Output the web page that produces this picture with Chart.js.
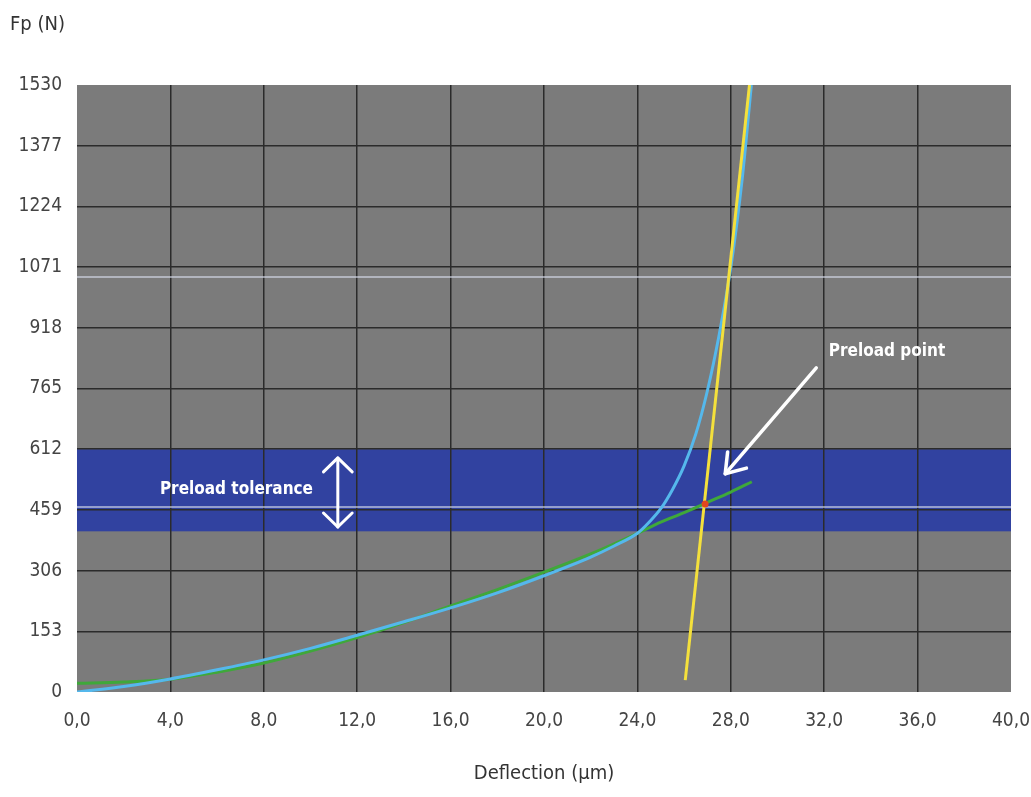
<!DOCTYPE html>
<html>
<head>
<meta charset="utf-8">
<script src="https://cdn.jsdelivr.net/npm/chart.js@4/dist/chart.umd.min.js"></script>
<style>
  html, body { margin: 0; padding: 0; background: #fff; }
  #wrap { width: 1031px; height: 797px; }
</style>
</head>
<body>
<div id="wrap"><canvas id="preload"></canvas></div>
<script>
// axis ticks
const xTicks = [0, 4, 8, 12, 16, 20, 24, 28, 32, 36, 40];
const yTicks = [0, 153, 306, 459, 612, 765, 918, 1071, 1224, 1377, 1530];

// stiffness curve (blue)
const blueX = [0, 2, 4, 6, 8, 10, 12, 14, 16, 18, 20, 22, 23, 24, 24.5, 25, 25.5, 26, 26.5, 27, 27.5, 28, 28.5, 28.88];
const blueY = [0, 14, 33, 56, 81, 110, 143, 177, 212, 250, 293, 340, 368, 400, 428, 462, 510, 570, 650, 760, 900, 1070, 1300, 1530];

// spring curve (green)
const greenX = [0, 2, 4, 6, 8, 10, 12, 14, 16, 18, 20, 22, 24, 25, 26, 27, 28, 28.9];
const greenY = [22, 25, 32, 50, 73, 103, 137, 175, 217, 258, 302, 348, 400, 428, 452, 478, 504, 530];

// load line (yellow)
const yellowX = [26.05, 28.8];
const yellowY = [30, 1530];

// preload point
const pointX = [26.9];
const pointY = [474];

// faint light lines across the plot
const lightY = [1046, 466];

// preload tolerance band
const bandLow = 405;
const bandHigh = 612;

const FONT = "'Liberation Sans Narrow', 'DejaVu Sans Condensed', 'Liberation Sans', sans-serif";

function pairs(xs, ys) {
  return xs.map((x, i) => ({ x: x, y: ys[i] }));
}

// inner grid lines only, no frame round the plot
function innerGrid(c) {
  const n = c.scale.ticks.length;
  return (c.index === 0 || c.index === n - 1) ? 'rgba(0,0,0,0)' : '#2b2b2b';
}

function arrowHead(ctx, tx, ty, fx, fy, len, spread) {
  const a = Math.atan2(ty - fy, tx - fx);
  ctx.beginPath();
  ctx.moveTo(tx - len * Math.cos(a - spread), ty - len * Math.sin(a - spread));
  ctx.lineTo(tx, ty);
  ctx.lineTo(tx - len * Math.cos(a + spread), ty - len * Math.sin(a + spread));
  ctx.stroke();
}

// plot background and tolerance band, drawn under the grid
const backdrop = {
  id: 'backdrop',
  beforeDraw(chart) {
    const { ctx, chartArea: a, scales: { y } } = chart;
    ctx.save();
    ctx.fillStyle = '#7b7b7b';
    ctx.fillRect(a.left, a.top, a.right - a.left, a.bottom - a.top);
    const t = y.getPixelForValue(bandHigh);
    const b = y.getPixelForValue(bandLow);
    ctx.fillStyle = '#3142a0';
    ctx.fillRect(a.left, t, a.right - a.left, b - t);
    ctx.restore();
  }
};

// labels and arrows on top
const notes = {
  id: 'notes',
  afterDraw(chart) {
    const { ctx, scales: { x, y } } = chart;
    ctx.save();
    ctx.fillStyle = '#333';
    ctx.font = "20px " + FONT;
    ctx.textBaseline = 'middle';
    ctx.textAlign = 'left';
    ctx.fillText('Fp (N)', 10, 25);

    ctx.fillStyle = '#fff';
    ctx.font = "bold 17px " + FONT;
    ctx.fillText('Preload point', x.getPixelForValue(32.2), y.getPixelForValue(857));
    ctx.fillText('Preload tolerance', x.getPixelForValue(3.55), y.getPixelForValue(509));

    ctx.strokeStyle = '#fff';
    ctx.lineCap = 'round';
    ctx.lineJoin = 'round';
    ctx.lineWidth = 3.5;
    // arrow to preload point
    const fx = x.getPixelForValue(31.66), fy = y.getPixelForValue(817);
    const tx = x.getPixelForValue(27.76), ty = y.getPixelForValue(550);
    ctx.beginPath();
    ctx.moveTo(fx, fy);
    ctx.lineTo(tx, ty);
    ctx.stroke();
    arrowHead(ctx, tx, ty, fx, fy, 22, 0.6);

    // double arrow for tolerance
    ctx.lineWidth = 3;
    const dx = x.getPixelForValue(11.17);
    const dt = y.getPixelForValue(590), db = y.getPixelForValue(416);
    ctx.beginPath();
    ctx.moveTo(dx, dt);
    ctx.lineTo(dx, db);
    ctx.stroke();
    arrowHead(ctx, dx, dt, dx, db, 20, 0.8);
    arrowHead(ctx, dx, db, dx, dt, 20, 0.8);
    ctx.restore();
  }
};

const lightSets = lightY.map(v => ({
  data: pairs([0, 40], [v, v]),
  showLine: true,
  borderColor: 'rgba(215,220,235,0.8)',
  borderWidth: 1.5,
  pointRadius: 0,
  order: 5
}));

new Chart(document.getElementById('preload'), {
  type: 'scatter',
  data: {
    datasets: [
      ...lightSets,
      {
        label: 'spring',
        data: pairs(greenX, greenY),
        showLine: true,
        borderColor: '#3fa83a',
        borderWidth: 3,
        pointRadius: 0,
        cubicInterpolationMode: 'monotone',
        order: 3
      },
      {
        label: 'stiffness',
        data: pairs(blueX, blueY),
        showLine: true,
        borderColor: '#55b8ec',
        borderWidth: 3,
        pointRadius: 0,
        cubicInterpolationMode: 'monotone',
        order: 2
      },
      {
        label: 'load',
        data: pairs(yellowX, yellowY),
        showLine: true,
        borderColor: '#f4e03c',
        borderWidth: 3,
        pointRadius: 0,
        order: 1
      },
      {
        label: 'preload',
        data: pairs(pointX, pointY),
        backgroundColor: '#e2461e',
        borderWidth: 0,
        pointRadius: 3.5,
        order: 0
      }
    ]
  },
  options: {
    responsive: true,
    maintainAspectRatio: false,
    animation: false,
    layout: { padding: { left: 0, right: 20, top: 85, bottom: 0 } },
    plugins: {
      legend: { display: false },
      tooltip: { enabled: false }
    },
    scales: {
      x: {
        type: 'linear',
        min: 0,
        max: 40,
        afterBuildTicks: s => { s.ticks = xTicks.map(v => ({ value: v })); },
        afterFit: s => { s.height = 105; s.paddingRight = 0; s.paddingLeft = 0; },
        grid: { color: innerGrid, lineWidth: 1.5, drawTicks: false },
        border: { display: false },
        ticks: {
          padding: 18,
          color: '#444',
          font: { family: FONT, size: 19 },
          callback: v => v.toFixed(1).replace('.', ',')
        },
        title: {
          display: true,
          text: 'Deflection (μm)',
          color: '#333',
          font: { family: FONT, size: 20 },
          padding: { top: 0, bottom: 11 }
        }
      },
      y: {
        type: 'linear',
        min: 0,
        max: 1530,
        afterBuildTicks: s => { s.ticks = yTicks.map(v => ({ value: v })); },
        afterFit: s => { s.width = 77; },
        grid: { color: innerGrid, lineWidth: 1.5, drawTicks: false },
        border: { display: false },
        ticks: {
          padding: 15,
          color: '#444',
          font: { family: FONT, size: 19 },
          callback: v => String(v)
        }
      }
    }
  },
  plugins: [backdrop, notes]
});
</script>
</body>
</html>
